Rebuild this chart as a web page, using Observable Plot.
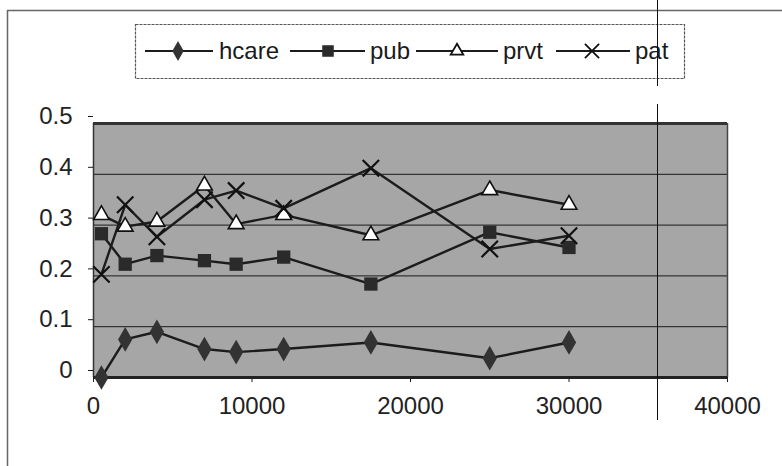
<!DOCTYPE html>
<html>
<head>
<meta charset="utf-8">
<script src="https://cdn.jsdelivr.net/npm/d3@7"></script>
<script src="https://cdn.jsdelivr.net/npm/@observablehq/plot@0.6"></script>
<style>
  html, body { margin: 0; padding: 0; background: #fff; }
  #chart { width: 782px; height: 466px; }
  svg { font-family: "Liberation Sans", Arial, sans-serif; }
</style>
</head>
<body>
<div id="chart"></div>
<script>
// ---- data ----
const xs    = [500, 2000, 4000, 7000, 9000, 12000, 17500, 25000, 30000];
const hcare = [0, 0.075, 0.09, 0.056, 0.05, 0.056, 0.069, 0.038, 0.069];
const pub   = [0.283, 0.223, 0.24, 0.23, 0.223, 0.237, 0.184, 0.286, 0.256];
const prvt  = [0.32, 0.297, 0.307, 0.378, 0.302, 0.32, 0.28, 0.369, 0.34];
const pat   = [0.203, 0.34, 0.277, 0.35, 0.368, 0.333, 0.412, 0.253, 0.279];
const seriesNames = ["hcare", "pub", "prvt", "pat"];
const xTicks = [0, 10000, 20000, 30000, 40000];
const yTicks = [0, 0.1, 0.2, 0.3, 0.4, 0.5];
const gridValues = [0.1, 0.2, 0.3, 0.4];

const values = {hcare, pub, prvt, pat};
const rows = seriesNames.flatMap(s => xs.map((x, i) => ({x, y: values[s][i], s})));
const of = s => rows.filter(d => d.s === s);

const W = 782, H = 466;
const chart = Plot.plot({
  width: W, height: H,
  marginLeft: 93, marginRight: 55, marginTop: 123, marginBottom: 89,
  style: {background: "#fff", color: "#1a1a1a", overflow: "visible"},
  x: {domain: [0, 40000]},
  y: {domain: [0, 0.5]},
  marks: [
    Plot.frame({fill: "#a6a6a6", stroke: null}),
    Plot.ruleY(gridValues, {stroke: "#1a1a1a", strokeWidth: 1}),
    Plot.ruleY([0.5], {stroke: "#333", strokeWidth: 3}),
    Plot.ruleX([40000], {stroke: "#444", strokeWidth: 1.5}),
    Plot.ruleX([0], {stroke: "#333", strokeWidth: 1.5}),
    Plot.axisX({ticks: xTicks, tickFormat: d3.format("d"), tickSize: 5, tickPadding: 14, fontSize: 24, fill: "#222", label: null}),
    Plot.axisY({ticks: yTicks, tickFormat: d => d === 0 ? "0" : d3.format(".1f")(d), tickSize: 5, tickPadding: 16, fontSize: 24, fill: "#222", dy: -7, label: null}),
    Plot.ruleY([0], {stroke: "#222", strokeWidth: 3}),
    Plot.line(rows, {x: "x", y: "y", z: "s", stroke: "#1c1c1c", strokeWidth: 2.4}),
    Plot.dot(of("hcare"), {x: "x", y: "y", symbol: "diamond", fill: "#333", r: 7.5}),
    Plot.dot(of("pub"), {x: "x", y: "y", symbol: "square", fill: "#2a2a2a", r: 7.5}),
    Plot.dot(of("prvt"), {x: "x", y: "y", symbol: "triangle2", fill: "#fff", stroke: "#111", strokeWidth: 1.6, r: 7.5}),
    Plot.dot(of("pat"), {x: "x", y: "y", symbol: "times", stroke: "#111", strokeWidth: 2.2, r: 7.5})
  ]
});
document.getElementById("chart").appendChild(chart);

// ---- legend & page frame ----
const svg = d3.select(chart);
const g = svg.append("g").attr("text-anchor", "start");
g.append("line").attr("x1", 7.5).attr("x2", 7.5).attr("y1", 10).attr("y2", H).attr("stroke", "#666").attr("stroke-width", 1.5);
g.append("line").attr("x1", 7).attr("x2", W).attr("y1", 10.5).attr("y2", 10.5).attr("stroke", "#666").attr("stroke-width", 1.5);
g.append("rect").attr("x", 135.5).attr("y", 24.5).attr("width", 549).attr("height", 54)
  .attr("fill", "#fff").attr("stroke", "#555").attr("stroke-width", 1.2).attr("stroke-dasharray", "3,1");

const legendItems = [
  {name: "hcare", x1: 145, x2: 213, sx: 178, tx: 219, sym: d3.symbolDiamond, fill: "#333", stroke: "none", size: 6},
  {name: "pub", x1: 290, x2: 365, sx: 328, tx: 370, sym: d3.symbolSquare, fill: "#2a2a2a", stroke: "none", size: 6.5},
  {name: "prvt", x1: 416, x2: 498, sx: 457, tx: 503, sym: d3.symbolTriangle2, fill: "#fff", stroke: "#111", size: 6},
  {name: "pat", x1: 556, x2: 630, sx: 592, tx: 635, sym: d3.symbolTimes, fill: "none", stroke: "#111", size: 6.5}
];
const ly = 51;
for (const it of legendItems) {
  g.append("line").attr("x1", it.x1).attr("x2", it.x2).attr("y1", ly).attr("y2", ly).attr("stroke", "#1c1c1c").attr("stroke-width", 2.2);
  g.append("path").attr("d", d3.symbol(it.sym, Math.PI * it.size * it.size)()).attr("transform", `translate(${it.sx},${ly})`)
    .attr("fill", it.fill).attr("stroke", it.stroke).attr("stroke-width", 1.8);
  g.append("text").attr("x", it.tx).attr("y", ly).attr("dy", "0.35em").attr("font-size", 24).attr("fill", "#1a1a1a").text(it.name);
}
// scan line artifact
g.append("line").attr("x1", 657.5).attr("x2", 657.5).attr("y1", 0).attr("y2", 86).attr("stroke", "#111").attr("stroke-width", 1);
g.append("line").attr("x1", 657.5).attr("x2", 657.5).attr("y1", 104).attr("y2", 420).attr("stroke", "#111").attr("stroke-width", 1);
</script>
</body>
</html>
